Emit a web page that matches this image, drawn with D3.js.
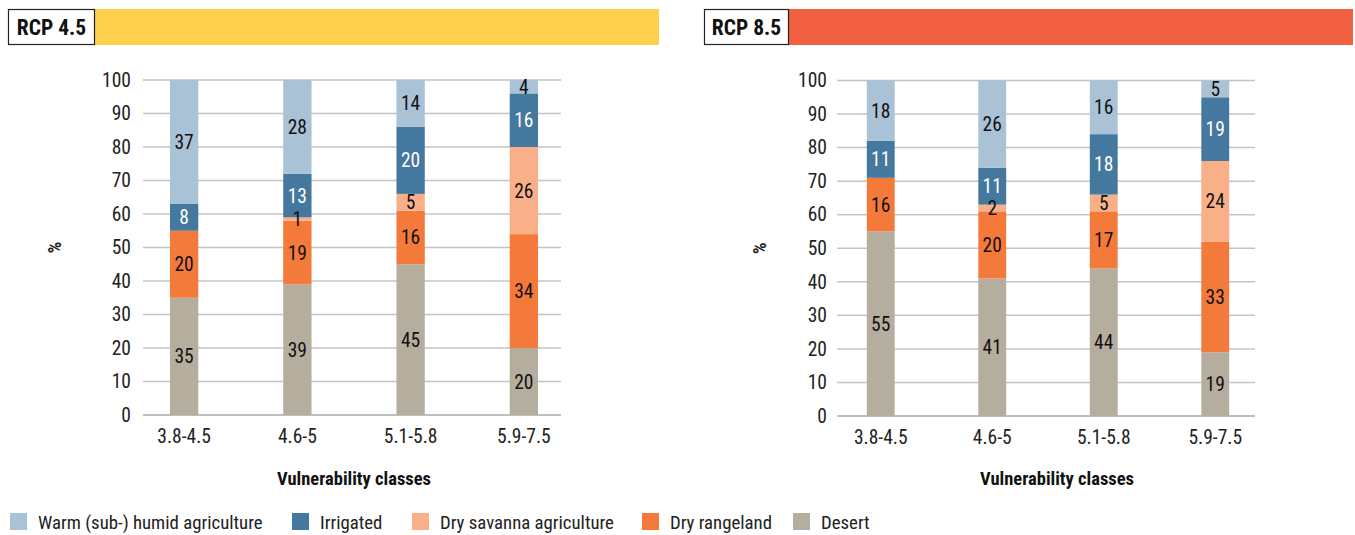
<!DOCTYPE html>
<html>
<head>
<meta charset="utf-8">
<script src="https://cdn.jsdelivr.net/npm/d3@7"></script>
<style>
  html, body { margin: 0; padding: 0; background: #fff; }
  svg { display: block; }
  text { font-family: "Roboto Condensed", "Liberation Sans Narrow", "DejaVu Sans Condensed", Roboto, sans-serif; }
</style>
</head>
<body>
<svg id="chart" width="1355" height="535"></svg>
<script>
// Vulnerability classes on the x axis
const categories = ["3.8-4.5", "4.6-5", "5.1-5.8", "5.9-7.5"];

// Land-use types, stacked bottom to top
const seriesNames = ["Desert", "Dry rangeland", "Dry savanna agriculture", "Irrigated", "Warm (sub-) humid agriculture"];
const legendOrder = ["Warm (sub-) humid agriculture", "Irrigated", "Dry savanna agriculture", "Dry rangeland", "Desert"];
const seriesColors = ["#b5ae9f", "#f47a3b", "#f9b088", "#45789e", "#a9c2d6"];

// RCP 4.5 shares (%) per class
const rcp45Desert   = [35, 39, 45, 20];
const rcp45Range    = [20, 19, 16, 34];
const rcp45Savanna  = [0, 1, 5, 26];
const rcp45Irrig    = [8, 13, 20, 16];
const rcp45Humid    = [37, 28, 14, 4];

// RCP 8.5 shares (%) per class
const rcp85Desert   = [55, 41, 44, 19];
const rcp85Range    = [16, 20, 17, 33];
const rcp85Savanna  = [0, 2, 5, 24];
const rcp85Irrig    = [11, 11, 18, 19];
const rcp85Humid    = [18, 26, 16, 5];

const yTicks = [0, 10, 20, 30, 40, 50, 60, 70, 80, 90, 100];

const svg = d3.select("#chart");
const color = d3.scaleOrdinal().domain(seriesNames).range(seriesColors);

function buildRows(arrs) {
  return categories.map((c, i) => {
    const row = { cat: c };
    seriesNames.forEach((s, k) => row[s] = arrs[k][i]);
    return row;
  });
}

const panels = [
  {
    title: "RCP 4.5", band: "#ffd04d",
    box: [8, 95], barEnd: 659,
    grid: [143, 561], xRange: [127.5, 580.5], tickX: 131, pctX: 55, titleX: 354,
    y: [415, 80],
    rows: buildRows([rcp45Desert, rcp45Range, rcp45Savanna, rcp45Irrig, rcp45Humid])
  },
  {
    title: "RCP 8.5", band: "#f26042",
    box: [704, 789], barEnd: 1353,
    grid: [837, 1255], xRange: [825, 1271], tickX: 827, pctX: 760, titleX: 1057,
    y: [416, 80.5],
    rows: buildRows([rcp85Desert, rcp85Range, rcp85Savanna, rcp85Irrig, rcp85Humid])
  }
];

const stack = d3.stack().keys(seriesNames);

panels.forEach(p => {
  const g = svg.append("g");

  // Header strip
  g.append("rect").attr("x", p.box[1]).attr("y", 9).attr("width", p.barEnd - p.box[1]).attr("height", 36)
    .attr("fill", p.band);
  g.append("rect").attr("x", p.box[0] + 0.5).attr("y", 9.5).attr("width", p.box[1] - p.box[0] - 1).attr("height", 35)
    .attr("fill", "#fff").attr("stroke", "#222").attr("stroke-width", 1.2);
  g.append("text").attr("x", (p.box[0] + p.box[1]) / 2).attr("y", 35)
    .attr("text-anchor", "middle").attr("font-size", 21.5).attr("font-weight", 700).attr("fill", "#111")
    .text(p.title);

  const x = d3.scaleBand().domain(categories).range(p.xRange).paddingInner(0.75).paddingOuter(0.375);
  const y = d3.scaleLinear().domain([0, 100]).range(p.y);

  // Gridlines
  g.append("g").selectAll("line").data(yTicks).join("line")
    .attr("x1", p.grid[0]).attr("x2", p.grid[1])
    .attr("y1", d => y(d)).attr("y2", d => y(d))
    .attr("stroke", d => d === 0 ? "#a8a8a8" : "#c4c4c4").attr("stroke-width", 1.5);

  // Y axis labels
  const yAxis = d3.axisLeft(y).tickValues(yTicks).tickSize(0).tickPadding(0);
  const ya = g.append("g").attr("transform", `translate(${p.tickX},0)`).call(yAxis);
  ya.select(".domain").remove();
  ya.selectAll("text").attr("font-size", 19.5).attr("fill", "#222").attr("font-family", null);

  g.append("text").attr("transform", `translate(${p.pctX},${(p.y[0] + p.y[1]) / 2}) rotate(-90)`)
    .attr("text-anchor", "middle").attr("dy", "0.35em").attr("font-size", 18).attr("font-weight", 700).attr("fill", "#222")
    .text("%");

  // Stacked bars
  const layers = stack(p.rows);
  const lg = g.append("g").selectAll("g").data(layers).join("g").attr("fill", d => color(d.key));
  lg.selectAll("rect").data(d => d.map(v => ({ v, key: d.key }))).join("rect")
    .attr("x", d => x(d.v.data.cat))
    .attr("width", x.bandwidth())
    .attr("y", d => y(d.v[1]))
    .attr("height", d => y(d.v[0]) - y(d.v[1]));

  // Value labels
  layers.forEach(layer => {
    g.append("g").selectAll("text").data(layer.filter(v => v[1] - v[0] > 0)).join("text")
      .attr("x", v => x(v.data.cat) + x.bandwidth() / 2)
      .attr("y", v => y((v[0] + v[1]) / 2))
      .attr("dy", "0.36em")
      .attr("text-anchor", "middle").attr("font-size", 19.5)
      .attr("fill", layer.key === "Irrigated" ? "#fff" : "#111")
      .text(v => v[1] - v[0]);
  });

  // Category labels
  const xAxis = d3.axisBottom(x).tickSize(0).tickPadding(0);
  const xa = g.append("g").attr("transform", `translate(0,${p.y[0] + 14})`).call(xAxis);
  xa.select(".domain").remove();
  xa.selectAll("text").attr("font-size", 19.5).attr("fill", "#222").attr("font-family", null).attr("dy", "0.71em");

  g.append("text").attr("x", p.titleX).attr("y", 485)
    .attr("text-anchor", "middle").attr("font-size", 18.5).attr("font-weight", 700).attr("fill", "#111")
    .text("Vulnerability classes");
});

// Legend
const legendX = [10, 292, 412, 642, 793];
const lgd = svg.append("g").selectAll("g").data(legendOrder).join("g")
  .attr("transform", (d, i) => `translate(${legendX[i]},513)`);
lgd.append("rect").attr("width", 17).attr("height", 17).attr("fill", d => color(d));
lgd.append("text").attr("x", 28).attr("y", 16).attr("font-size", 18.8).attr("fill", "#222").text(d => d);
</script>
</body>
</html>
